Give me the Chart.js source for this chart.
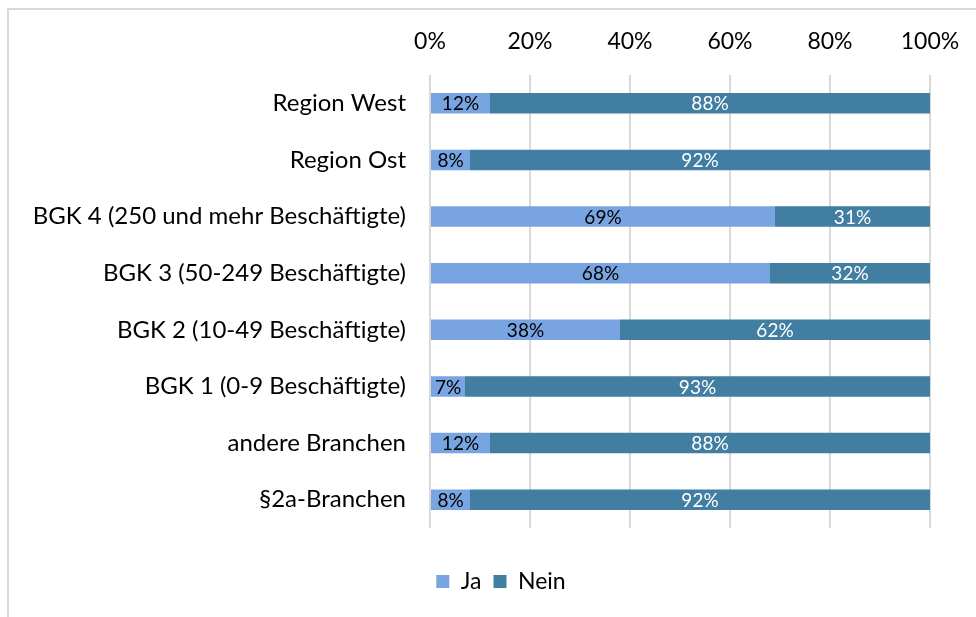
<!DOCTYPE html>
<html>
<head>
<meta charset="utf-8">
<script src="https://cdn.jsdelivr.net/npm/chart.js@4"></script>
<style>
  html, body { margin: 0; padding: 0; background: #fff; overflow: hidden; }
  #frame { position: absolute; left: 7px; top: 8px; width: 1000px; height: 700px;
           border-left: 2px solid #d9d9d9; border-top: 2px solid #d9d9d9; }
  #wrap { position: absolute; left: 0; top: 0; width: 976px; height: 617px; }
</style>
</head>
<body>
<div id="frame"></div>
<div id="wrap"><canvas id="c" width="976" height="617"></canvas></div>
<script>
const CATEGORIES = [
  'Region West',
  'Region Ost',
  'BGK 4 (250 und mehr Beschäftigte)',
  'BGK 3 (50-249 Beschäftigte)',
  'BGK 2 (10-49 Beschäftigte)',
  'BGK 1 (0-9 Beschäftigte)',
  'andere Branchen',
  '§2a-Branchen',
];
const JA   = [12, 8, 69, 68, 38, 7, 12, 8];
const NEIN = [88, 92, 31, 32, 62, 93, 88, 92];
const X_TICKS = [0, 20, 40, 60, 80, 100];

const FONT = 'Lato, "Open Sans", sans-serif';

// Werte mittig in die Balken schreiben
const barLabels = {
  id: 'barLabels',
  afterDatasetsDraw(chart) {
    const ctx = chart.ctx;
    ctx.save();
    ctx.font = `19px ${FONT}`;
    ctx.textAlign = 'center';
    ctx.textBaseline = 'middle';
    chart.data.datasets.forEach((ds, i) => {
      chart.getDatasetMeta(i).data.forEach((bar, j) => {
        const x = (bar.x + bar.base) / 2;
        ctx.fillStyle = ds.labelColor;
        ctx.fillText(`${ds.data[j]}%`, x, bar.y + 1);
      });
    });
    ctx.restore();
  },
};

// Legende etwas nach rechts schieben (Mitte ca. bei x=501 wie im Original)
const legendShift = {
  id: 'legendShift',
  afterLayout(chart) {
    if (chart.legend) { chart.legend.left += 36; chart.legend.right += 36; }
  },
};

new Chart(document.getElementById('c'), {
  type: 'bar',
  data: {
    labels: CATEGORIES,
    datasets: [
      { label: 'Ja',   data: JA,   backgroundColor: '#78a5e1', labelColor: '#000' },
      { label: 'Nein', data: NEIN, backgroundColor: '#417ea2', labelColor: '#fff' },
    ],
  },
  options: {
    indexAxis: 'y',
    responsive: false,
    animation: false,
    layout: { padding: { left: 0, right: 46, top: 0, bottom: 14 } },
    datasets: { bar: { categoryPercentage: 1, barPercentage: 0.36 } },
    plugins: {
      tooltip: { enabled: false },
      legend: {
        position: 'bottom',
        title: { display: true, text: ' ', font: { size: 10 }, padding: { top: 0, bottom: 18 } },
        labels: {
          font: { family: FONT, size: 23 },
          color: '#000',
          boxWidth: 13,
          boxHeight: 13,
          padding: 12,
        },
      },
    },
    scales: {
      x: {
        position: 'top',
        stacked: true,
        min: 0, max: 100,
        afterBuildTicks: s => { s.ticks = X_TICKS.map(v => ({ value: v })); },
        afterFit: s => { s.height = 75; s.paddingLeft = 0; s.paddingRight = 0; },
        ticks: {
          callback: v => `${v}%`,
          font: { family: FONT, size: 23 },
          color: '#000',
          padding: 20,
        },
        grid: { color: '#d9d9d9', lineWidth: 2, drawTicks: false },
        border: { display: false },
      },
      y: {
        stacked: true,
        afterFit: s => { s.width = 430; },
        ticks: {
          font: { family: FONT, size: 24 },
          color: '#000',
          padding: 24,
        },
        grid: { display: false, drawTicks: false },
        border: { display: false },
      },
    },
  },
  plugins: [barLabels, legendShift],
});
</script>
</body>
</html>
